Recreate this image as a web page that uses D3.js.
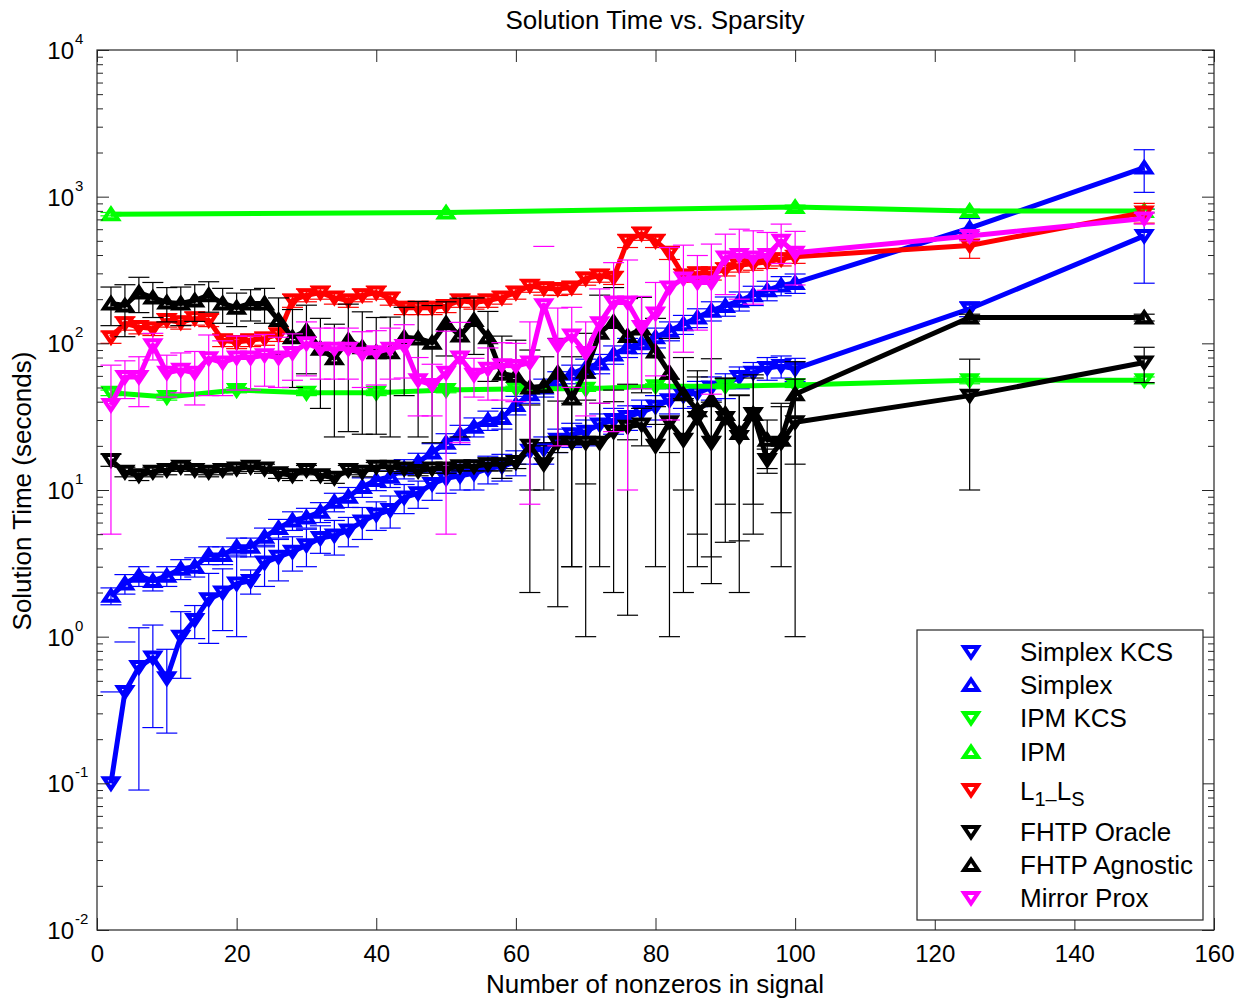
<!DOCTYPE html>
<html><head><meta charset="utf-8">
<script src="https://cdn.jsdelivr.net/npm/d3@7"></script>
<style>
body{margin:0;background:#fff;}
text{font-family:"Liberation Sans", Arial, Helvetica, sans-serif;fill:#000;}
</style>
</head><body>
<svg id="c" width="1239" height="999"></svg>
<script>
// ---------------- DATA ----------------
const xMain = [2,4,6,8,10,12,14,16,18,20,22,24,26,28,30,32,34,36,38,40,42,44,46,48,50,52,54,56,58,60,62,64,66,68,70,72,74,76,78,80,82,84,86,88,90,92,94,96,98,100,125,150];
const xIpmKcs = [2,10,20,30,40,50,60,70,80,90,100,125,150];
const xIpm = [2,50,100,125,150];

const simplexKcs = [0.10,0.42,0.62,0.72,0.52,1.0,1.3,1.8,2.0,2.3,
 2.4,3.2,3.5,3.8,4.2,4.7,4.9,5.3,6.1,6.8,
 7.3,8.9,9.5,11,12,12.5,13,14,14.5,15.5,
 18.5,19,22,24,25,28,30,31.5,34,37,
 41,44,46,50,52,59,63,68,70,67,
 172,540];
const simplexKcsErr = [0.32,0.5,0.53,0.48,0.3,0.48,0.33,0.9,0.9,1.3,
 0.45,1.0,1.1,1.0,1.2,1.0,1.3,1.2,1.5,1.5,
 1.8,2,2,2.5,2.5,2.5,3,3,3,3,
 3.5,4,4,4.5,5,5,6,6,7,7,
 8,8,9,9,10,10,11,12,12,12,
 20,283];

const simplex = [1.9,2.3,2.6,2.4,2.6,2.9,3.0,3.6,3.6,4.1,
 4.1,4.8,5.5,6.2,6.5,7.1,8.3,9.0,10.5,11.7,
 12.3,14,15.5,18,21,24,27,30,31,38,
 45,50,56,62,68,73,84,94,100,110,
 122,135,150,167,180,195,213,230,248,258,
 610,1580];
const simplexErr = [0.25,0.35,0.4,0.35,0.4,0.45,0.45,0.5,0.5,0.6,
 0.6,0.7,0.8,0.9,1.0,1.1,1.2,1.4,1.6,1.8,
 1.9,2.1,2.3,2.7,3.2,3.6,4,4.5,5,5.5,
 6,7,8,9,10,11,12,14,15,17,
 18,20,22,25,27,29,32,35,37,39,
 100,510];

const ipmKcs = [46,43,48,46,46,48,49,49,51,51,52,56,56];
const ipmKcsErr = [2,2,2,2,2,2,2,2,2,2,2,3,3];

const ipm = [760,780,850,800,800];
const ipmErr = [20,20,25,20,20];

const l1ls = [110,137,129,126,144,139,148,144,105,102,
 105,108,115,196,213,222,205,196,213,222,
 202,175,175,175,180,196,190,196,205,222,
 247,237,235,240,277,290,280,500,560,500,
 415,290,300,300,320,340,350,360,375,390,
 465,780];
const l1lsErr = [10,14,13,13,15,14,15,14,10,10,
 10,11,12,20,21,22,20,20,21,22,
 20,18,18,18,18,20,19,20,20,22,
 24,24,23,24,28,29,28,50,56,50,
 42,29,30,30,32,34,35,36,38,39,
 85,120];

const fhtpOracle = [16,13.3,12.6,13.3,13.7,14.4,13.7,13.3,13.7,14,
 14.4,14,13,12.6,13.7,12.6,12.1,13.7,13.3,14.4,
 14.4,14,13.5,14,14,14.5,14.5,15,15,15.5,
 20,15,21,21,21,21,25,27,28,20,
 29,22,31,21,31,23,33,16,21,29,
 44,74];
const fhtpOracleErr = [1.5,1,1,1,1,1,1,1,1,1,
 1,1,1,1,1,1,1,1,1,1,
 1,1,1,1,1,1,1,1.5,1.5,1.5,
 18,5,19.4,18,20,18,23,25.6,8,17,
 28,20,28,18.7,26.6,21,28,3,18,28,
 34,20];

const fhtpAgnostic = [187,181,222,205,190,187,196,213,187,175,
 187,187,144,110,122,92,79,105,94,87,
 87,110,108,101,137,113,144,110,62,60,
 50,51,63,42,64,118,140,112,126,88,
 63,45,35,41,33,24.5,33,22,22,45,
 150,150];
const fhtpAgnosticErr = [55,70,60,55,50,55,55,50,50,45,
 45,50,60,60,60,56,56,80,70,63,
 64,66,85,80,55,90,60,55,50,45,
 40,30,45,39,53,95,100,90,80,60,
 45,35,30,37.5,25,20,25,8,15,30,
 8,8];

const mirrorProx = [38,59,59,97,63,66,63,79,74,80,
 80,83,80,86,100,92,92,92,85,87,
 92,96,56,52,63,80,61,67,71,70,
 74,182,97,113,86,137,190,190,129,160,
 240,277,260,260,385,400,385,400,500,415,
 540,710];
const mirrorProxErr = [33,17,22,20,20,20,25,35,30,32,
 32,32,30,30,40,35,35,35,35,35,
 35,38,24,20,58,59,18,26,30,30,
 66,276,77,63,54,98,165,180,80,100,
 210,190,137,215,170,200,200,170,150,165,
 40,60];

const xTicks = [0,20,40,60,80,100,120,140,160];
const yExponents = [-2,-1,0,1,2,3,4];
const seriesNames = ["Simplex KCS","Simplex","IPM KCS","IPM","L1-LS","FHTP Oracle","FHTP Agnostic","Mirror Prox"];
const seriesColors = ["#0000ff","#0000ff","#00ff00","#00ff00","#ff0000","#000000","#000000","#ff00ff"];
const seriesMarkers = ["down","up","down","up","down","down","up","down"];
const titleText = "Solution Time vs. Sparsity";
const xLabelText = "Number of nonzeros in signal";
const yLabelText = "Solution Time (seconds)";

// ---------------- CHART ----------------
const series = [
  {x:xMain, v:simplexKcs, e:simplexKcsErr},
  {x:xMain, v:simplex, e:simplexErr},
  {x:xIpmKcs, v:ipmKcs, e:ipmKcsErr},
  {x:xIpm, v:ipm, e:ipmErr},
  {x:xMain, v:l1ls, e:l1lsErr},
  {x:xMain, v:fhtpOracle, e:fhtpOracleErr},
  {x:xMain, v:fhtpAgnostic, e:fhtpAgnosticErr},
  {x:xMain, v:mirrorProx, e:mirrorProxErr}
].map((s,k)=>Object.assign(s,{name:seriesNames[k],color:seriesColors[k],marker:seriesMarkers[k]}));

const L=97, R=1214, T=50, B=930;
const x = d3.scaleLinear().domain([0,160]).range([L,R]);
const y = d3.scaleLog().domain([0.01,10000]).range([B,T]);

const svg = d3.select("#c");
svg.append("rect").attr("width",1239).attr("height",999).attr("fill","#fff");
svg.append("defs").append("clipPath").attr("id","clip")
  .append("rect").attr("x",L).attr("y",T).attr("width",R-L).attr("height",B-T);

const markerPath = m => m==="down" ? "M-7,-5L7,-5L0,5.5Z" : "M-7,5L7,5L0,-5.5Z";
const capHalf = 10.5;

const plot = svg.append("g").attr("clip-path","url(#clip)");
series.forEach(s=>{
  const g = plot.append("g");
  const idx = d3.range(s.x.length);
  const eb = g.append("g").attr("stroke",s.color).attr("stroke-width",1.2).attr("fill","none");
  idx.forEach(i=>{
    const px = x(s.x[i]), hi = s.v[i]+s.e[i], lo = s.v[i]-s.e[i];
    if (lo > 0) {
      eb.append("line").attr("x1",px).attr("x2",px).attr("y1",y(lo)).attr("y2",y(hi));
      eb.append("line").attr("x1",px-capHalf).attr("x2",px+capHalf).attr("y1",y(lo)).attr("y2",y(lo));
    }
    eb.append("line").attr("x1",px-capHalf).attr("x2",px+capHalf).attr("y1",y(hi)).attr("y2",y(hi));
  });
  g.append("path").datum(idx)
    .attr("d", d3.line().x(i=>x(s.x[i])).y(i=>y(s.v[i])))
    .attr("fill","none").attr("stroke",s.color).attr("stroke-width",5)
    .attr("stroke-linejoin","round");
  g.selectAll("path.mk").data(idx).join("path").attr("class","mk")
    .attr("transform",i=>`translate(${x(s.x[i])},${y(s.v[i])})`)
    .attr("d",markerPath(s.marker))
    .attr("fill","none").attr("stroke",s.color).attr("stroke-width",4)
    .attr("stroke-linejoin","miter");
});

// axes
const axColor = "#262626";
const minorVals = [];
yExponents.slice(0,-1).forEach(e=>{ for(let k=2;k<=9;k++) minorVals.push(k*Math.pow(10,e)); });
const majorVals = yExponents.map(e=>Math.pow(10,e));

function styleAxis(g){ g.select(".domain").remove(); g.selectAll("line").attr("stroke",axColor); }

svg.append("g").attr("transform",`translate(0,${B})`)
  .call(d3.axisBottom(x).tickValues(xTicks).tickSizeInner(-12).tickSizeOuter(0).tickPadding(15))
  .call(styleAxis)
  .call(g=>g.selectAll("text").attr("font-size",24).attr("font-family",'"Liberation Sans", Arial, sans-serif').attr("fill","#000"));
svg.append("g").attr("transform",`translate(0,${T})`)
  .call(d3.axisTop(x).tickValues(xTicks).tickSizeInner(-12).tickSizeOuter(0).tickFormat(""))
  .call(styleAxis);
[["L",L,d3.axisLeft],["R",R,d3.axisRight]].forEach(([nm,pos,ax])=>{
  svg.append("g").attr("transform",`translate(${pos},0)`)
    .call(ax(y).tickValues(majorVals).tickSizeInner(-12).tickSizeOuter(0).tickFormat(""))
    .call(styleAxis);
  svg.append("g").attr("transform",`translate(${pos},0)`)
    .call(ax(y).tickValues(minorVals).tickSizeInner(-6).tickSizeOuter(0).tickFormat(""))
    .call(styleAxis);
});
svg.append("rect").attr("x",L).attr("y",T).attr("width",R-L).attr("height",B-T)
  .attr("fill","none").attr("stroke",axColor).attr("stroke-width",1.2);

// y tick labels 10^e
yExponents.forEach(e=>{
  const py = y(Math.pow(10,e));
  svg.append("text").attr("x",74).attr("y",py+9).attr("text-anchor","end").attr("font-size",24).text("10");
  svg.append("text").attr("x",75).attr("y",py-6).attr("text-anchor","start").attr("font-size",15).text(String(e));
});

// titles
svg.append("text").attr("x",655).attr("y",29).attr("text-anchor","middle").attr("font-size",26).text(titleText);
svg.append("text").attr("x",655).attr("y",993).attr("text-anchor","middle").attr("font-size",26).text(xLabelText);
svg.append("text").attr("transform","translate(31,491) rotate(-90)").attr("text-anchor","middle").attr("font-size",26).text(yLabelText);

// legend
const lg = svg.append("g");
lg.append("rect").attr("x",917).attr("y",630).attr("width",286).attr("height",290)
  .attr("fill","#fff").attr("stroke",axColor).attr("stroke-width",1.2);
const rowY = [652,685,718,752,790,832,865,898];
series.forEach((s,k)=>{
  lg.append("path").attr("transform",`translate(971,${rowY[k]})`).attr("d",markerPath(s.marker))
    .attr("fill","#fff").attr("stroke",s.color).attr("stroke-width",4).attr("stroke-linejoin","miter");
  if (s.name==="L1-LS"){
    const t = lg.append("text").attr("x",1020).attr("y",rowY[k]+10).attr("font-size",26);
    t.append("tspan").text("L");
    t.append("tspan").attr("dy",6).attr("font-size",20).text("1\u2013");
    t.append("tspan").attr("dy",-6).attr("font-size",26).text("L");
    t.append("tspan").attr("dy",6).attr("font-size",20).text("S");
  } else {
    lg.append("text").attr("x",1020).attr("y",rowY[k]+9).attr("font-size",26).text(s.name);
  }
});
</script>
</body></html>
